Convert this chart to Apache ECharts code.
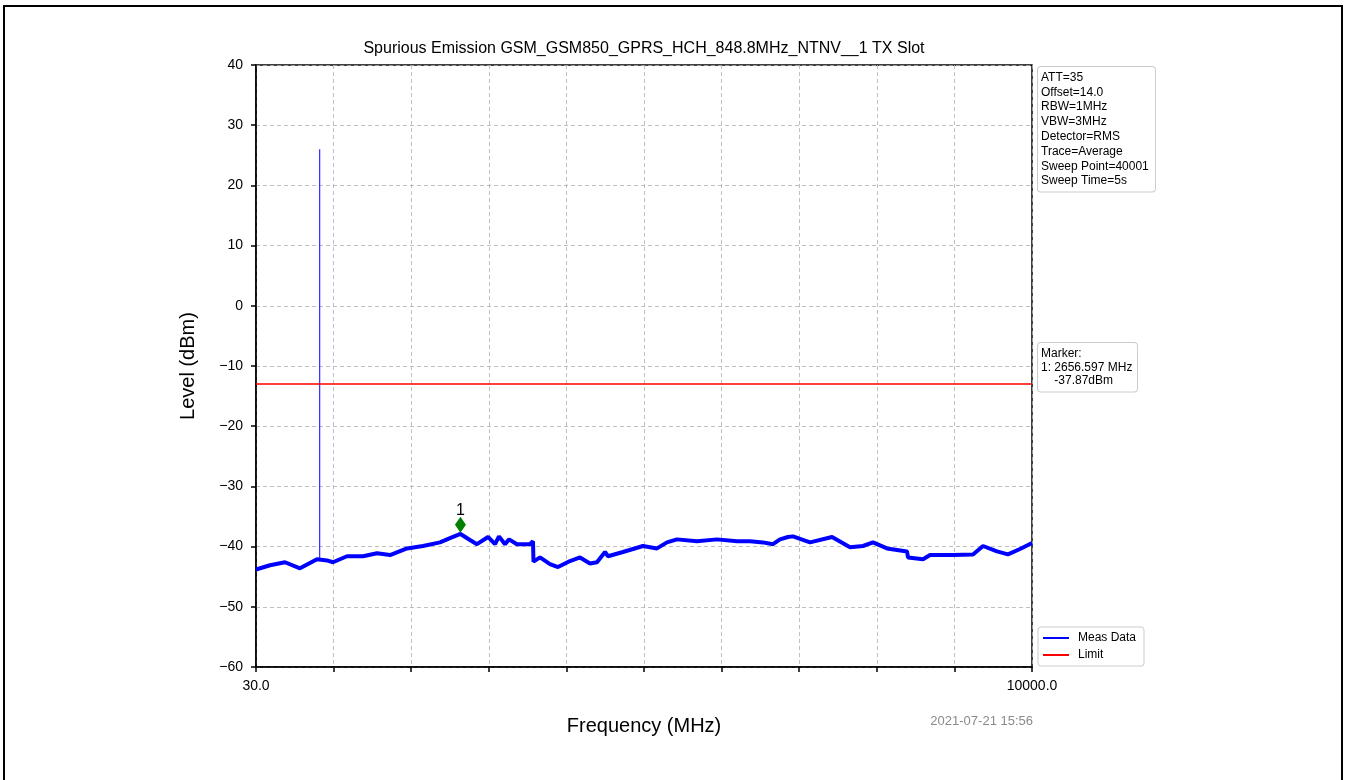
<!DOCTYPE html>
<html>
<head>
<meta charset="utf-8">
<script src="https://cdn.jsdelivr.net/npm/echarts@6/dist/echarts.min.js"></script>
<style>html,body{margin:0;padding:0;background:#fff}#c{width:1346px;height:780px}</style>
</head>
<body>
<div id="c"></div>
<script>
// Frequency (MHz) and level (dBm) of the measured trace
const measFreq = [30, 210, 403, 595, 814, 942, 1019, 1199, 1405, 1585, 1752, 1970, 2176, 2394, 2522, 2657, 2779, 2869, 3011, 3101, 3152, 3229, 3281, 3383, 3550, 3589, 3595, 3679, 3807, 3910, 4064, 4193, 4321, 4411, 4514, 4553, 4745, 5002, 5182, 5310, 5439, 5696, 5953, 6210, 6377, 6544, 6672, 6762, 6865, 6929, 7148, 7431, 7662, 7829, 7957, 8137, 8394, 8407, 8600, 8690, 8985, 9242, 9371, 9550, 9691, 9846, 10000];
const measLevel = [-43.8, -43.1, -42.6, -43.6, -42.1, -42.3, -42.6, -41.6, -41.6, -41.1, -41.4, -40.3, -39.9, -39.3, -38.6, -37.9, -38.9, -39.6, -38.4, -39.6, -38.3, -39.6, -38.8, -39.6, -39.6, -39.1, -42.5, -41.8, -42.9, -43.4, -42.4, -41.8, -42.8, -42.6, -40.9, -41.6, -40.9, -39.9, -40.3, -39.3, -38.8, -39.1, -38.8, -39.1, -39.1, -39.3, -39.6, -38.8, -38.4, -38.3, -39.3, -38.4, -40.1, -39.9, -39.3, -40.3, -40.8, -41.8, -42.1, -41.4, -41.4, -41.3, -39.9, -40.8, -41.3, -40.4, -39.4];
// Carrier spike
const spikeFreq = [848.8, 848.8];
const spikeLevel = [-42.2, 26.0];
// Limit line
const limitFreq = [30, 10000];
const limitLevel = [-13, -13];
// Marker
const markerFreq = 2656.597;
const markerLevel = -37.87;
// Axis
const xMin = 30, xMax = 10000, xDivisions = 10;
const yMin = -60, yMax = 40, yStep = 10;
const xEndLabels = ['30.0', '10000.0'];
const infoLines = ['ATT=35', 'Offset=14.0', 'RBW=1MHz', 'VBW=3MHz', 'Detector=RMS', 'Trace=Average', 'Sweep Point=40001', 'Sweep Time=5s'];
const markerLines = ['Marker:', '1: 2656.597 MHz', '    -37.87dBm'];
const titleText = 'Spurious Emission GSM_GSM850_GPRS_HCH_848.8MHz_NTNV__1 TX Slot';
const dateText = '2021-07-21 15:56';

const FONT = '"Liberation Sans", Arial, sans-serif';
const span = xMax - xMin;
const step = span / xDivisions;
const toPts = (fs, vs) => fs.map((f, i) => [f - xMin, vs[i]]);

const chart = echarts.init(document.getElementById('c'), null, {renderer: 'canvas'});
chart.setOption({
  animation: false,
  backgroundColor: '#fff',
  grid: {left: 256, right: 314, top: 65, bottom: 113, show: true, borderColor: '#000', borderWidth: 1.5, backgroundColor: 'transparent'},
  xAxis: {
    type: 'value', min: 0, max: span, interval: step,
    name: 'Frequency (MHz)', nameLocation: 'middle', nameGap: 49,
    nameTextStyle: {fontFamily: FONT, fontSize: 20, color: '#000'},
    axisLine: {show: true, onZero: false, lineStyle: {color: '#000', width: 1.5}},
    axisTick: {show: true, length: 5, lineStyle: {color: '#000', width: 1.5}},
    axisLabel: {show: true, margin: 12, fontFamily: FONT, fontSize: 14, color: '#000', showMaxLabel: true, showMinLabel: true,
      formatter: v => (Math.abs(v) < 1e-6 ? xEndLabels[0] : (Math.abs(v - span) < 1e-3 ? xEndLabels[1] : ''))},
    splitLine: {show: true, lineStyle: {color: '#b0b0b0', type: [4, 3], width: 0.8}}
  },
  yAxis: {
    type: 'value', min: yMin, max: yMax, interval: yStep,
    name: 'Level (dBm)', nameLocation: 'middle', nameGap: 58,
    nameTextStyle: {fontFamily: FONT, fontSize: 20, color: '#000'},
    axisLine: {show: true, onZero: false, lineStyle: {color: '#000', width: 1.5}},
    axisTick: {show: true, length: 5, lineStyle: {color: '#000', width: 1.5}},
    axisLabel: {margin: 13, fontFamily: FONT, fontSize: 14, color: '#000', formatter: v => String(v).replace('-', '\u2212')},
    splitLine: {show: true, lineStyle: {color: '#b0b0b0', type: [4, 3], width: 0.8}}
  },
  legend: {
    data: [{name: 'Meas Data', icon: 'rect'}, {name: 'Limit', icon: 'rect'}],
    orient: 'vertical', left: 1038, top: 627,
    itemWidth: 26, itemHeight: 2, itemGap: 5,
    padding: [5, 8, 5, 5],
    borderColor: '#cccccc', borderWidth: 1, borderRadius: 3,
    textStyle: {fontFamily: FONT, fontSize: 12, color: '#000', padding: [0, 0, 0, 4]}
  },
  graphic: [
    {type: 'rect', silent: true, shape: {x: 4, y: 6, width: 1338, height: 800}, style: {fill: 'none', stroke: '#000', lineWidth: 2}},
    {type: 'text', x: 644, y: 49, style: {text: titleText, font: '16px ' + FONT, fill: '#000', align: 'center', verticalAlign: 'middle'}},
    {type: 'text', x: 1033, y: 721, style: {text: dateText, font: '13px ' + FONT, fill: '#8a8a8a', align: 'right', verticalAlign: 'middle'}},
    {type: 'text', x: 1038, y: 67, style: {text: infoLines.join('\n'), font: '12px ' + FONT, lineHeight: 14.8, fill: '#000',
      backgroundColor: '#fff', borderColor: '#cccccc', borderWidth: 1, borderRadius: 3, padding: [3, 10, 3, 3], width: 104}},
    {type: 'text', x: 1038, y: 343, style: {text: markerLines.join('\n'), font: '12px ' + FONT, lineHeight: 13.5, fill: '#000',
      backgroundColor: '#fff', borderColor: '#cccccc', borderWidth: 1, borderRadius: 3, padding: [4, 6, 4, 3], width: 90}}
  ],
  series: [
    {name: 'Meas Data', type: 'line', data: toPts(measFreq, measLevel), showSymbol: false, symbol: 'none',
      lineStyle: {color: '#0000ff', width: 4}, itemStyle: {color: '#0000ff'}, z: 3},
    {name: 'Meas Data', type: 'line', data: toPts(spikeFreq, spikeLevel), showSymbol: false, symbol: 'none',
      lineStyle: {color: '#0000ff', width: 1}, itemStyle: {color: '#0000ff'}, z: 3},
    {name: 'Limit', type: 'line', data: toPts(limitFreq, limitLevel), showSymbol: false, symbol: 'none',
      lineStyle: {color: '#ff0000', width: 1.5}, itemStyle: {color: '#ff0000'}, z: 4},
    {name: 'marker', type: 'scatter', data: [[markerFreq - xMin, markerLevel]], symbol: 'diamond', symbolSize: [11, 16], symbolOffset: [0, -9],
      itemStyle: {color: '#008000', opacity: 1}, z: 5,
      label: {show: true, formatter: '1', position: 'top', distance: 2, offset: [0, 4], fontFamily: FONT, fontSize: 16, color: '#000'}}
  ]
});
</script>
</body>
</html>
